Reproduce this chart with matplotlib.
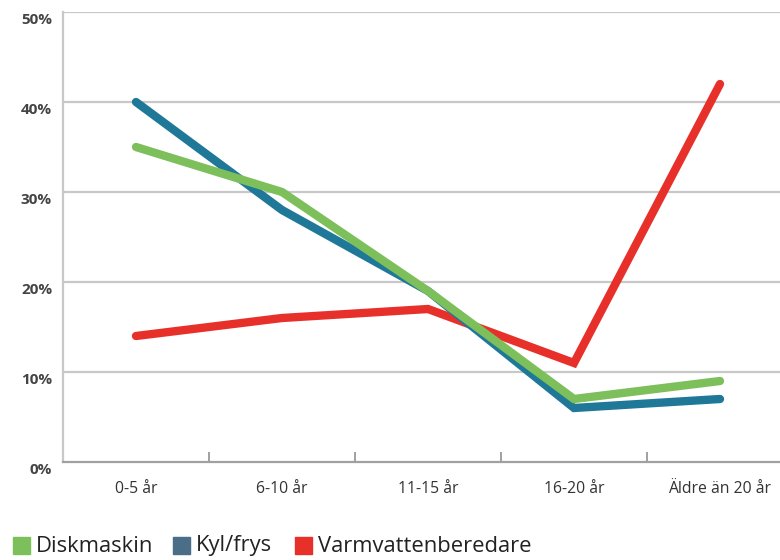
import matplotlib
matplotlib.use("Agg")
import matplotlib.pyplot as plt
from matplotlib.patches import Rectangle
from matplotlib.transforms import blended_transform_factory

categories = ["0-5 år", "6-10 år", "11-15 år", "16-20 år", "Äldre än 20 år"]
diskmaskin = [35, 30, 19, 7, 9]
kylfrys = [40, 28, 19, 6, 7]
varmvatten = [14, 16, 17, 11, 42]
yticks = [0, 10, 20, 30, 40, 50]
series_names = ["Diskmaskin", "Kyl/frys", "Varmvattenberedare"]

plt.rcParams['font.family'] = ['Open Sans', 'DejaVu Sans']

W, H = 780, 560
fig = plt.figure(figsize=(7.8, 5.6), dpi=100)
left, right, top, bottom = 63, 793, 12, 462
ax = fig.add_axes([left / W, 1 - bottom / H, (right - left) / W, (bottom - top) / H])

n = len(categories)
xs = list(range(n))
ax.set_xlim(-0.5, n - 0.5)
ax.set_ylim(0, 50)

grid_c = "#c8c8c8"
for y in yticks[1:]:
    ax.axhline(y, color=grid_c, lw=1.6, zorder=1)
for s in ["top", "right"]:
    ax.spines[s].set_visible(False)
ax.spines["left"].set_color(grid_c)
ax.spines["left"].set_linewidth(1.6)
ax.spines["bottom"].set_color("#a0a0a0")
ax.spines["bottom"].set_linewidth(1.6)

ax.set_xticks([i + 0.5 for i in range(n - 1)])
ax.set_xticklabels([])
ax.tick_params(axis="x", direction="in", length=7, width=1.4, color="#a0a0a0")
ax.set_yticks([])

tr = blended_transform_factory(ax.transAxes, ax.transData)
for y in yticks:
    ax.text(-0.015, y - 0.9, f"{y}%", transform=tr, ha="right", va="center",
            fontsize=11, fontweight="bold", color="#444444")
trx = blended_transform_factory(ax.transData, ax.transAxes)
for i, c in enumerate(categories):
    ax.text(i, -0.06, c, transform=trx, ha="center", va="center",
            fontsize=11.3, color="#333333")

c_green = "#7dbf5a"
c_blue = "#1f7898"
c_red = "#e8302a"
lw = 6
ax.plot(xs, varmvatten, color=c_red, lw=lw, solid_capstyle="round", solid_joinstyle="miter", zorder=3, clip_on=False)
ax.plot(xs, kylfrys, color=c_blue, lw=lw, solid_capstyle="round", solid_joinstyle="miter", zorder=4, clip_on=False)
ax.plot(xs, diskmaskin, color=c_green, lw=lw, solid_capstyle="round", solid_joinstyle="miter", zorder=5, clip_on=False)

# legend
leg_colors = [c_green, "#4b6e88", c_red]
ly = 546
xpos = [13, 173, 295]
for name, col, xp in zip(series_names, leg_colors, xpos):
    fig.patches.append(Rectangle((xp / W, 1 - (ly + 8) / H), 17 / W, 17 / H,
                                 transform=fig.transFigure, color=col))
    fig.text((xp + 23) / W, 1 - ly / H, name, ha="left", va="center",
             fontsize=15.8, color="#222222")

fig.savefig("out.png", dpi=100)
